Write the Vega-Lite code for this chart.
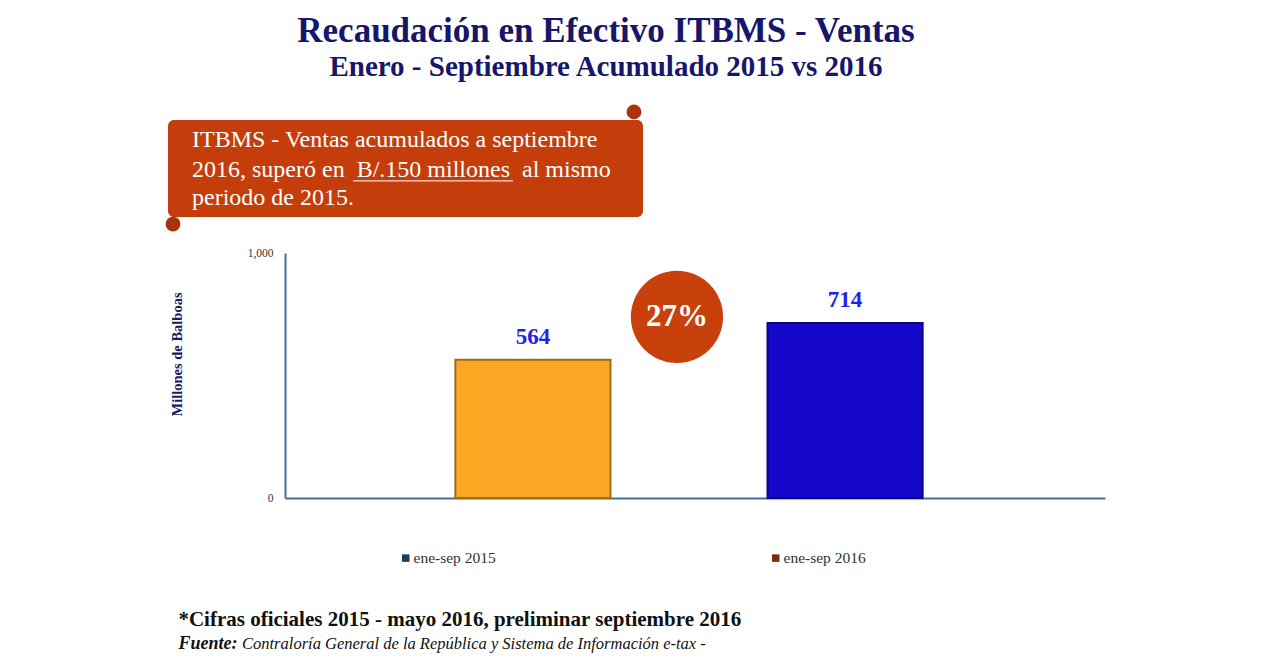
{
  "$schema": "https://vega.github.io/schema/vega-lite/v6.json",
  "width": 820,
  "height": 245,
  "autosize": {"type": "none"},
  "padding": {"left": 285, "top": 253, "right": 176, "bottom": 165},
  "background": "white",
  "config": {"view": {"stroke": null}, "font": "Liberation Serif"},
  "title": {
    "text": "Recaudación en Efectivo ITBMS - Ventas",
    "subtitle": "Enero - Septiembre Acumulado 2015 vs 2016",
    "font": "Liberation Serif", "fontSize": 35, "fontWeight": "bold", "color": "#16166B",
    "subtitleFont": "Liberation Serif", "subtitleFontSize": 29, "subtitleFontWeight": "bold", "subtitleColor": "#16166B",
    "anchor": "middle", "dx": -89, "offset": 22.5, "subtitlePadding": 4
  },
  "datasets": {
    "ventas": [
      {"serie": "ene-sep 2015", "valor": 564},
      {"serie": "ene-sep 2016", "valor": 714}
    ],
    "notas": [
      {"kind": "banda", "x": -0.1427, "x2": 0.4366, "y": 1543, "y2": 1147},
      {"kind": "rizo", "x": -0.1366, "y": 1118},
      {"kind": "rizo", "x": 0.4256, "y": 1576},
      {"kind": "aviso", "x": -0.1134, "y": 1433, "text": "ITBMS - Ventas acumulados a septiembre"},
      {"kind": "aviso", "x": -0.1134, "y": 1310, "text": "2016, superó en\u00a0 B/.150 millones\u00a0 al mismo"},
      {"kind": "aviso", "x": -0.1134, "y": 1196, "text": "periodo de 2015."},
      {"kind": "subrayado", "x": 0.0829, "x2": 0.2780, "y": 1294},
      {"kind": "circulo", "x": 0.478, "y": 739, "text": "27%"},
      {"kind": "nota", "x": -0.13, "y": -522, "text": "*Cifras oficiales 2015 - mayo 2016, preliminar septiembre 2016"},
      {"kind": "fuente1", "x": -0.13, "y": -616, "text": "Fuente:"},
      {"kind": "fuente2", "x": -0.0524, "y": -616, "text": "Contraloría General de la República y Sistema de Información e-tax -"}
    ]
  },
  "layer": [
    {
      "data": {"name": "ventas"},
      "encoding": {
        "x": {
          "field": "serie", "type": "nominal",
          "scale": {"domain": ["ene-sep 2015", "ene-sep 2016"], "paddingInner": 0.503, "paddingOuter": 0.565, "align": 0.483},
          "axis": {"labels": false, "ticks": false, "title": null, "grid": false, "domainColor": "#41709C", "domainWidth": 2}
        },
        "y": {
          "field": "valor", "type": "quantitative", "title": "Millones de Balboas",
          "scale": {"domain": [0, 1000], "nice": false},
          "axis": {
            "values": [0, 1000], "format": ",.0f", "ticks": false, "grid": false,
            "domainColor": "#41709C", "domainWidth": 2,
            "labelFont": "Liberation Serif", "labelFontSize": 11.5, "labelColor": "#333333", "labelPadding": 12,
            "title": "Millones de Balboas", "titleFont": "Liberation Serif", "titleFontSize": 14.5, "titleFontWeight": "bold",
            "titleColor": "#1A1A5E", "titleX": -101, "titleY": 101
          }
        }
      },
      "layer": [
        {
          "mark": {"type": "square", "size": 0, "filled": true},
          "encoding": {
            "color": {
              "field": "serie", "type": "nominal",
              "scale": {"domain": ["ene-sep 2015", "ene-sep 2016"], "range": ["#1E3D5C", "#7C2A10"]},
              "legend": {
                "orient": "none", "legendX": 113, "legendY": 297, "direction": "horizontal", "title": null,
                "symbolType": "square", "symbolSize": 56, "symbolOpacity": 1, "symbolStrokeWidth": 0,
                "labelFont": "Liberation Serif", "labelFontSize": 15.5,
                "labelColor": "#333333", "columnPadding": 272, "labelOffset": 0
              }
            }
          }
        },
        {
          "mark": {"type": "bar", "strokeWidth": 2},
          "encoding": {
            "fill": {
              "field": "serie", "type": "nominal",
              "scale": {"range": ["#FBA724", "#1407C9"]},
              "legend": null
            },
            "stroke": {
              "field": "serie", "type": "nominal",
              "scale": {"range": ["#A06C14", "#0A0585"]},
              "legend": null
            }
          }
        },
        {
          "mark": {"type": "text", "dy": -16, "baseline": "alphabetic", "font": "Liberation Serif", "fontSize": 23, "fontWeight": "bold", "color": "#2222E6"},
          "encoding": {"text": {"field": "valor", "type": "quantitative"}}
        }
      ]
    },
    {
      "data": {"name": "notas"},
      "encoding": {
        "x": {"field": "x", "type": "quantitative", "scale": {"domain": [0, 1], "nice": false, "zero": false}, "axis": null},
        "y": {
          "field": "y", "type": "quantitative", "title": "Millones de Balboas",
          "scale": {"domain": [0, 1000], "nice": false},
          "axis": {
            "values": [0, 1000], "format": ",.0f", "ticks": false, "grid": false,
            "domainColor": "#41709C", "domainWidth": 2,
            "labelFont": "Liberation Serif", "labelFontSize": 11.5, "labelColor": "#333333", "labelPadding": 12,
            "title": "Millones de Balboas", "titleFont": "Liberation Serif", "titleFontSize": 14.5, "titleFontWeight": "bold",
            "titleColor": "#1A1A5E", "titleX": -101, "titleY": 101
          }
        }
      },
      "layer": [
        {
          "transform": [{"filter": "datum.kind === 'banda'"}],
          "mark": {"type": "rect", "fill": "#C43D0B", "cornerRadius": 6},
          "encoding": {"x2": {"field": "x2"}, "y2": {"field": "y2"}}
        },
        {
          "transform": [{"filter": "datum.kind === 'rizo'"}],
          "mark": {"type": "circle", "size": 220, "fill": "#A9330A", "opacity": 1}
        },
        {
          "transform": [{"filter": "datum.kind === 'aviso'"}],
          "mark": {"type": "text", "align": "left", "baseline": "alphabetic", "font": "Liberation Serif", "fontSize": 24, "color": "#FFFFFF"},
          "encoding": {"text": {"field": "text"}}
        },
        {
          "transform": [{"filter": "datum.kind === 'subrayado'"}],
          "mark": {"type": "rule", "color": "#F5DCD2", "strokeWidth": 1.3},
          "encoding": {"x2": {"field": "x2"}}
        },
        {
          "transform": [{"filter": "datum.kind === 'circulo'"}],
          "mark": {"type": "circle", "size": 8500, "fill": "#C8410D", "opacity": 1}
        },
        {
          "transform": [{"filter": "datum.kind === 'circulo'"}],
          "mark": {"type": "text", "align": "center", "baseline": "middle", "font": "Liberation Serif", "fontSize": 31, "fontWeight": "bold", "color": "#FFFFFF"},
          "encoding": {"text": {"field": "text"}}
        },
        {
          "transform": [{"filter": "datum.kind === 'nota'"}],
          "mark": {"type": "text", "align": "left", "baseline": "alphabetic", "font": "Liberation Serif", "fontSize": 21, "fontWeight": "bold", "color": "#111111"},
          "encoding": {"text": {"field": "text"}}
        },
        {
          "transform": [{"filter": "datum.kind === 'fuente1'"}],
          "mark": {"type": "text", "align": "left", "baseline": "alphabetic", "font": "Liberation Serif", "fontSize": 18, "fontWeight": "bold", "fontStyle": "italic", "color": "#111111"},
          "encoding": {"text": {"field": "text"}}
        },
        {
          "transform": [{"filter": "datum.kind === 'fuente2'"}],
          "mark": {"type": "text", "align": "left", "baseline": "alphabetic", "font": "Liberation Serif", "fontSize": 16.5, "fontStyle": "italic", "color": "#111111"},
          "encoding": {"text": {"field": "text"}}
        }
      ]
    }
  ],
  "resolve": {"scale": {"x": "independent"}}
}
